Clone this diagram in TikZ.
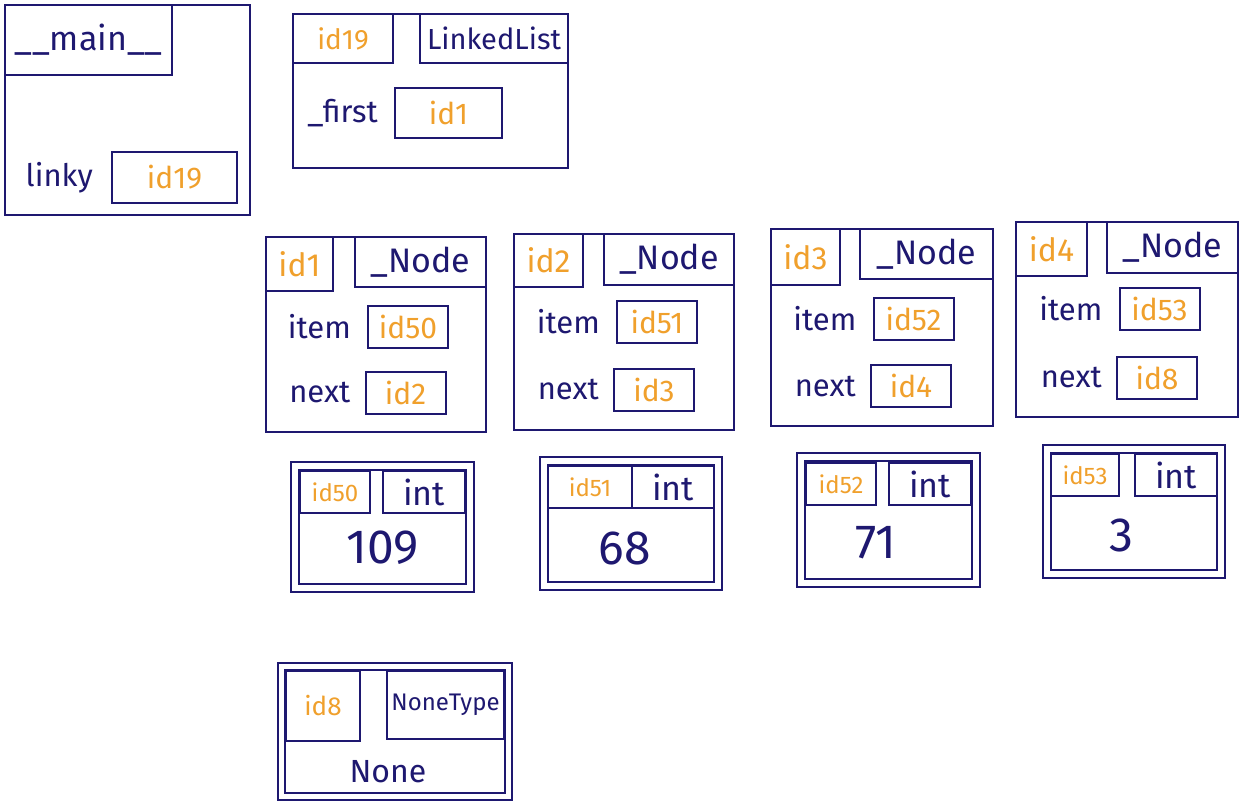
\documentclass[tikz,border=0pt]{standalone}
\usepackage{fontspec}
\setmainfont{Fira Sans}
\usetikzlibrary{positioning}
\definecolor{ink}{HTML}{1E1870}
\definecolor{amber}{HTML}{F0A02C}

\begin{document}
\begin{tikzpicture}[x=1pt, y=-1pt,
    frame/.style={draw=ink, line width=2pt, inner sep=0pt},
    tab/.style={frame, text=ink, font=\fontsize{34}{36}\selectfont},
    idtab/.style={frame, text=amber, font=\fontsize{32}{34}\selectfont, anchor=north west},
    typetab/.style={tab, anchor=north east},
    slot/.style={frame, minimum width=80, minimum height=42, text=amber, font=\fontsize{30}{32}\selectfont},
    field/.style={text=ink, inner sep=0pt, font=\fontsize{31}{33}\selectfont},
    objbox/.style={draw=ink, line width=2pt, double=white, double distance=5.5pt, inner sep=0pt},
    smallid/.style={idtab, font=\fontsize{24}{26}\selectfont, minimum width=70, minimum height=42},
    inttab/.style={typetab, minimum width=82, minimum height=42},
    value/.style={text=ink, font=\fontsize{48}{50}\selectfont}
]
    \fill[white] (0,0) rectangle (1241,806);
    \useasboundingbox (0,0) rectangle (1241,806);

    % __main__ frame
    \node[frame, minimum width=245, minimum height=210] (main) at (127.5,110) {};
    \node[tab, anchor=north west, minimum width=167, minimum height=70] (maintab) at (main.north west) {\_\_main\_\_};
    \node[slot, minimum width=125, minimum height=51] (linky) at (174.5,177.5) {id19};
    \node[field, left=18pt of linky] (linkyname) {linky};

    % LinkedList object
    \node[frame, minimum width=275, minimum height=154] (list) at (430.5,91) {};
    \node[idtab, minimum width=100, minimum height=49, font=\fontsize{28}{30}\selectfont] (listid) at (list.north west) {id19};
    \node[typetab, minimum width=148, minimum height=49, font=\fontsize{29}{31}\selectfont] (listtype) at (list.north east) {LinkedList};
    \node[slot, minimum width=107, minimum height=50] (first) at (448.5,113) {id1};
    \node[field, left=16pt of first] (firstname) {\_first};

    % _Node objects
    \node[frame, minimum width=220, minimum height=195] (n1) at (376,334.5) {};
    \node[idtab, minimum width=67, minimum height=54] (n1id) at (n1.north west) {id1};
    \node[typetab, minimum width=131, minimum height=50] (n1type) at (n1.north east) {\_Node};
    \node[slot] (n1item) at (408,327) {id50};
    \node[slot] (n1next) at (405.5,392.5) {id2};
    \node[field, left=16pt of n1item] (n1itemname) {item};
    \node[field, left=14pt of n1next] (n1nextname) {next};

    \node[frame, minimum width=220, minimum height=196] (n2) at (624,332) {};
    \node[idtab, minimum width=69, minimum height=53] (n2id) at (n2.north west) {id2};
    \node[typetab, minimum width=130, minimum height=51] (n2type) at (n2.north east) {\_Node};
    \node[slot] (n2item) at (657,322) {id51};
    \node[slot] (n2next) at (654,389.5) {id3};
    \node[field, left=16pt of n2item] (n2itemname) {item};
    \node[field, left=14pt of n2next] (n2nextname) {next};

    \node[frame, minimum width=222, minimum height=197] (n3) at (882,327.5) {};
    \node[idtab, minimum width=69, minimum height=56] (n3id) at (n3.north west) {id3};
    \node[typetab, minimum width=133, minimum height=50] (n3type) at (n3.north east) {\_Node};
    \node[slot] (n3item) at (913.5,318.5) {id52};
    \node[slot] (n3next) at (911,386) {id4};
    \node[field, left=16pt of n3item] (n3itemname) {item};
    \node[field, left=14pt of n3next] (n3nextname) {next};

    \node[frame, minimum width=222, minimum height=195] (n4) at (1127,319.5) {};
    \node[idtab, minimum width=71, minimum height=54] (n4id) at (n4.north west) {id4};
    \node[typetab, minimum width=131, minimum height=51] (n4type) at (n4.north east) {\_Node};
    \node[slot] (n4item) at (1159.5,309) {id53};
    \node[slot] (n4next) at (1157,377.5) {id8};
    \node[field, left=16pt of n4item] (n4itemname) {item};
    \node[field, left=14pt of n4next] (n4nextname) {next};

    % int objects
    \node[objbox, minimum width=175, minimum height=122] (v1) at (382.5,527) {};
    \node[smallid] (v1id) at (299,470) {id50};
    \node[inttab] (v1type) at (466,470) {int};
    \node[value] (v1val) at (382.5,548) {109};

    \node[objbox, minimum width=174, minimum height=125] (v2) at (631,523.5) {};
    \node[smallid, minimum width=84] (v2id) at (547,465) {id51};
    \node[inttab] (v2type) at (715,465) {int};
    \node[value] (v2val) at (625,548) {68};

    \node[objbox, minimum width=175, minimum height=126] (v3) at (888.5,520) {};
    \node[smallid] (v3id) at (805,462) {id52};
    \node[inttab] (v3type) at (972,462) {int};
    \node[value] (v3val) at (876,543) {71};

    \node[objbox, minimum width=174, minimum height=125] (v4) at (1134,511.5) {};
    \node[smallid, minimum width=68] (v4id) at (1050,453) {id53};
    \node[inttab] (v4type) at (1218,453) {int};
    \node[value] (v4val) at (1121,535) {3};

    % NoneType object
    \node[objbox, minimum width=227, minimum height=130] (none) at (395,731.5) {};
    \node[smallid, minimum width=74, minimum height=70, font=\fontsize{26}{28}\selectfont] (noneid) at (285,670) {id8};
    \node[typetab, minimum width=117, minimum height=68, font=\fontsize{24}{26}\selectfont] (nonetype) at (505,670) {NoneType};
    \node[text=ink, font=\fontsize{32}{34}\selectfont] (noneval) at (388,772) {None};
\end{tikzpicture}
\end{document}
